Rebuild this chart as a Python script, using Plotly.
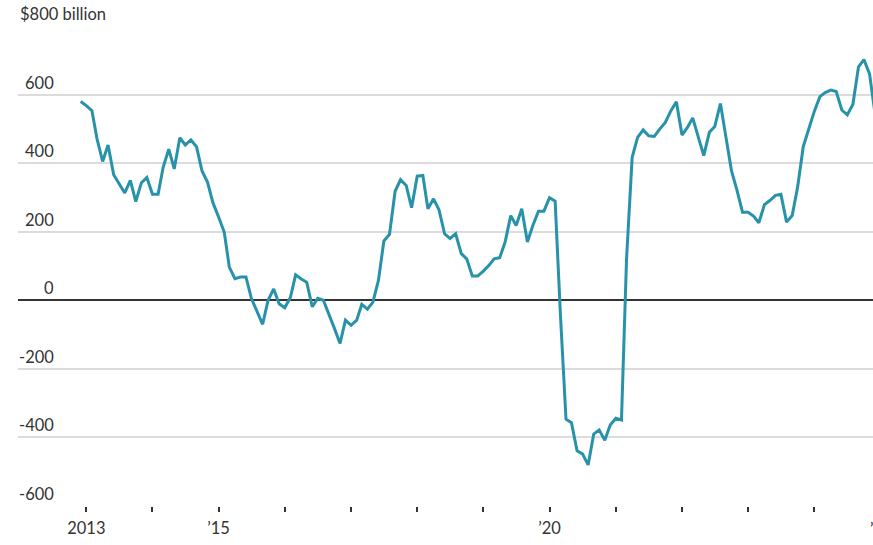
import pandas as pd
import plotly.graph_objects as go

# monthly values, $ billion, starting Dec 2012
start_month = "2012-12-01"
values = [
    580,
    568, 553, 471, 405, 453, 366, 340, 313, 350, 288, 343, 358,  # 2013
    309, 309, 388, 441, 383, 474, 453, 468, 448, 378, 344, 284,  # 2014
    243, 199, 97, 63, 68, 68, 5, -34, -70, 0, 33, -10,  # 2015
    -22, 8, 74, 62, 53, -19, 6, 0, -39, -82, -126, -58,  # 2016
    -73, -58, -12, -26, -6, 58, 173, 192, 318, 352, 335, 270,  # 2017
    362, 364, 267, 296, 264, 194, 180, 194, 136, 121, 71, 71,  # 2018
    85, 102, 121, 124, 170, 247, 218, 267, 170, 218, 260, 260,  # 2019
    299, 289, -40, -347, -357, -439, -448, -480, -390, -378, -408, -364,  # 2020
    -344, -349, 120, 417, 475, 497, 480, 478, 500, 519, 553, 579,  # 2021
    482, 505, 532, 475, 422, 490, 507, 574, 475, 378, 320, 257,  # 2022
    257, 245, 226, 279, 291, 306, 309, 228, 247, 330, 448, 500,  # 2023
    551, 594, 606, 613, 609, 555, 541, 571, 681, 702, 660, 545,  # 2024
]

year_ticks = [str(y) + "-01-01" for y in range(2013, 2025)]
year_labels = ["2013", "", "\u201915", "", "", "", "", "\u201920", "", "", "", ""]

y_ticks = [-600, -400, -200, 0, 200, 400, 600, 800]
y_labels = ["-600", "-400", "-200", "0", "200", "400", "600", "$800 billion"]

FONT = "Lato"
FONT_SIZE = 16.5
TEXT_COLOR = "#333333"
LINE_COLOR = "#2792a9"

dates = pd.date_range(start_month, periods=len(values), freq="MS")

fig = go.Figure()
fig.add_trace(
    go.Scatter(
        x=dates, y=values, mode="lines",
        line=dict(color=LINE_COLOR, width=3),
        showlegend=False, hoverinfo="x+y",
    )
)

fig.update_layout(
    width=873, height=545,
    margin=dict(l=18, r=0, t=26, b=39),
    paper_bgcolor="white", plot_bgcolor="white",
    font=dict(family=FONT, size=FONT_SIZE, color=TEXT_COLOR),
    xaxis=dict(
        type="date",
        range=["2011-12-21", "2024-11-20"],
        tickvals=year_ticks, ticktext=year_labels,
        ticks="outside", ticklen=5, tickwidth=1.5, tickcolor="#333333",
        ticklabelstandoff=2,
        showgrid=False, showline=False, zeroline=False,
        tickfont=dict(size=FONT_SIZE, color=TEXT_COLOR),
    ),
    yaxis=dict(
        range=[-600, 800],
        tickvals=y_ticks, showticklabels=False,
        showgrid=True, gridcolor="#dcdcdc", gridwidth=1.5,
        zeroline=True, zerolinecolor="#333333", zerolinewidth=1.5,
        showline=False,
    ),
)

# y labels sit on top of the gridlines, inside the plot
for val, label in zip(y_ticks, y_labels):
    if val == 800:
        anchor, shift = "left", 0
    else:
        anchor, shift = "right", 38
    fig.add_annotation(
        x=0, xref="paper", y=val, yref="y",
        text=label, showarrow=False,
        xanchor=anchor, yanchor="bottom", xshift=shift, yshift=0,
        font=dict(family=FONT, size=FONT_SIZE, color=TEXT_COLOR),
    )

# the 2025 label is cut off at the right edge
fig.add_annotation(
    x=(881 - 18) / 855, xref="paper", y=0, yref="paper",
    text="\u201925", showarrow=False,
    xanchor="center", yanchor="top", yshift=-11,
    font=dict(family=FONT, size=FONT_SIZE, color=TEXT_COLOR),
)

fig.write_html(
    "out.html",
    config={"displayModeBar": False},
    post_script="document.body.style.margin = '0px';",
)
